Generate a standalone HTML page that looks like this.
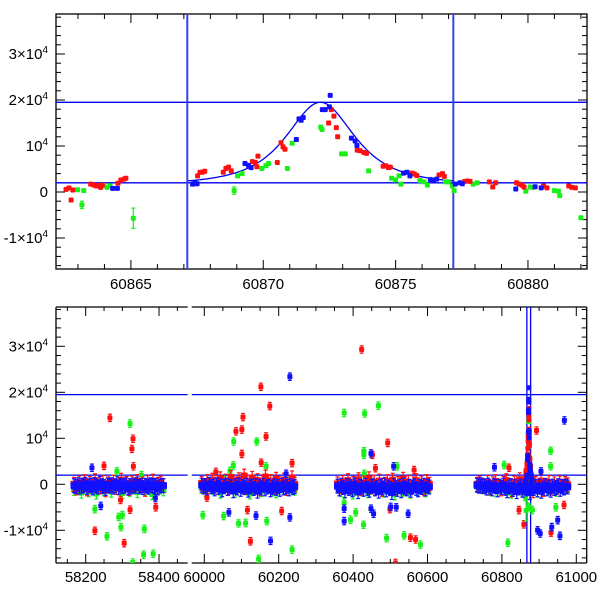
<!DOCTYPE html>
<html><head><meta charset="utf-8">
<style>
html,body{margin:0;padding:0;background:#fff;}
svg{display:block;font-family:"Liberation Sans",sans-serif;}
</style></head>
<body>
<svg id="chart" width="600" height="600" viewBox="0 0 600 600" xmlns="http://www.w3.org/2000/svg"></svg>
<script>
// ---------- DATA ----------
const topRedT=[60862.55,60862.66,60862.74,60862.81,60863.48,60863.6,60863.7,60863.78,60863.86,60863.92,60864.51,60864.62,60864.74,60864.81,60867.52,60867.61,60867.7,60867.79,60868.49,60868.59,60868.69,60868.79,60869.59,60869.7,60869.8,60869.76,60870.53,60870.67,60870.75,60870.82,60872.57,60872.67,60872.47,60872.76,60872.81,60873.55,60873.65,60873.8,60873.9,60874.53,60874.63,60874.73,60874.8,60875.62,60875.71,60875.8,60876.64,60876.77,60876.84,60877.61,60877.72,60877.81,60878.54,60878.67,60878.78,60879.57,60879.67,60879.78,60879.85,60880.59,60880.72,60881.54,60881.66,60881.79];
const topRedF=[580,860,-1740,430,1700,1500,1300,1400,1000,1500,1900,2600,2800,3000,3500,4300,4300,4500,4300,5100,5400,4600,6600,6400,7800,5500,6400,10700,9800,9300,17900,16500,15000,14000,12000,9100,9000,8600,8400,5600,5700,5300,5400,4100,3900,3600,3700,4000,3400,2300,2400,2300,2200,1100,2000,2000,1700,1500,1100,1300,900,1300,1000,900];
const topGreenT=[60862.99,60863.22,60863.15,60863.97,60864.1,60864.21,60865.09,60868.9,60869.03,60869.2,60869.95,60870.1,60870.2,60870.91,60871.09,60872.17,60872.22,60872.96,60873.1,60873.98,60874.85,60875.0,60875.13,60875.2,60875.92,60876.07,60876.2,60876.89,60876.99,60877.14,60877.21,60877.93,60878.08,60879.92,60880.08,60880.18,60881.0,60881.15,60881.2,60882.0];
const topGreenF=[500,300,-2800,1450,1000,1350,-5700,300,3500,4000,5100,5700,6200,5100,10600,14100,13600,8300,8300,4600,3000,2600,3500,1700,2500,2200,1500,2200,2200,1300,300,1700,2000,150,1100,1000,300,200,-800,-5600];
const topGreenE=[300,300,800,300,300,300,2200,800,300,300,300,300,300,300,300,300,300,300,300,300,300,300,300,300,300,300,300,300,300,300,300,300,300,300,300,300,300,300,300,300];
const topBlueT=[60864.31,60864.49,60867.33,60867.42,60867.5,60869.31,60869.44,60869.54,60871.25,60871.35,60871.43,60871.51,60872.23,60872.34,60872.5,60872.53,60873.33,60873.47,60873.54,60875.3,60875.43,60875.54,60876.31,60876.43,60876.55,60877.25,60877.43,60877.52,60879.54,60880.27,60880.5];
const topBlueF=[800,800,1700,2000,1800,6200,5800,5300,11400,15900,15600,16200,17900,17900,18500,21000,11700,11100,10100,4100,4300,3500,2700,2600,2800,1700,2000,1800,650,1150,900];
// Model curve parameters: baseline, amplitude, t0, width, power
const modelParams=[1500,18000,60872.16,2.0,1.5];
const modelRange=[60867.15,60877.2];
const hLines=[19500,2000];
const vLines=[60867.13,60877.18];

const bandSeasons=[[58168,58412],[59993,60243],[60358,60605],[60733,60977]];
const bandBlue=[
[-3,-5,-1,-6,-2,-4,0,-7,-3,-2,-8,-1,-4,-6,2,-3,-5,-9,-2,-4,-1,-6,-3,3,-7,-2,-5,-4,-1,-8,-3,-6,-2,-4,1,-5,-3,-7,-2,-4,-6,-1,-3,-5,-2,-8,-4,-2,-3],
[-2,-6,-3,-8,0,-5,-4,-10,-1,-7,-3,-12,-5,-2,-9,-4,-6,-14,-3,-8,-1,-11,-5,-7,-2,-13,-6,-4,-9,-3,-15,-5,-8,-2,-10,-6,-4,-12,-7,-3,-9,-5,-11,-2,-8,-6,-4,-10,-3,-7,-5],
[-4,-10,-2,-7,-14,-3,-9,-5,-12,-1,-8,-16,-4,-6,-11,-2,-9,-13,-5,-3,-10,-7,-15,-4,-8,-2,-12,-6,-9,-18,-3,-7,-11,-5,-14,-2,-8,-10,-4,-13,-6,-3,-9,-12,-5,-7,-2,-10,-4,-6],
[-2,-4,-1,-5,-3,-8,-2,-6,-10,-3,-5,-12,-4,-7,-2,-9,-14,-6,-3,-11,-5,-16,-8,-4,-13,-7,-10,-3,-18,-6,-9,-5,-12,-4,-15,-8,-3,-10,-6,-13,-4,-9,-7,-3,-11,-5,-8,-4,-6]];
const bandRed=[
[0,-8,3,-2,6,-10,2,-4,8,-1,-6,4,-12,1,-3,5,-7,0,9,-5,2,-9,3,-1,6,-4,1,-11,4,-2,7,-6,0,3,-3],
[2,-4,6,-1,9,-6,4,12,-3,7,-8,15,1,-5,10,-2,18,-7,5,13,-4,8,-10,3,16,-1,6,-6,11,2,-3,9,-9,4,14,0],
[1,-5,4,-2,8,-7,2,-3,10,-9,3,-1,12,-6,5,-4,7,-11,0,6,-3,9,-8,2,-2,11,-5,4,-7,1,8,-4,3,-10,6,0],
[0,3,-2,-5,4,-8,1,6,-4,-10,2,8,-6,-12,3,-3,10,-7,0,-9,5,-14,2,-5,7,-11,-2,4,-8,1,-6,3,-4,2,-1]];
const bandGreen=[
[-12,-6,-18,-4,-15,-9,-20,-2,-13,-7,-16,-5,-11,-19,-3,-14,-8,-17,-6,-12,-10,-21,-4,-9,-13],
[-8,-14,3,-10,-5,-18,6,-12,-3,-16,-7,4,-11,-20,-2,-9,-15,5,-6,-13,-17,-4,-10,2,-8,-12],
[-6,-15,-3,-10,-20,-8,-13,-4,-17,-9,-12,-2,-16,-7,-11,-22,-5,-14,-9,-18,-3,-12,-8,-15,-6],
[-5,-8,-3,-12,-6,-15,-2,-10,-7,-18,-4,-9,-13,-3,-11,-6,-16,-8,-5,-12,-7,-14,-4,-9,-6]];
const outRedT=[58266,58326,58329,58330,58250,58225,58305,58321,58391,58295,60152,60176,60166,60104,60101,60085,60101,60153,60031,60236,60116,60124,60208,60007,60423,60493,60452,60460,60499,60514,60554,60568,60564,60819,60859,60932,60967,60893,60846];
const outRedF=[14450,7700,9900,3900,4000,-10100,-12800,-5500,-5000,-3400,21200,17000,10400,14600,11900,11500,6600,4700,2700,4600,-5600,-12400,-5800,-2900,29300,9000,6400,3500,-5400,-17100,-11600,-12000,3100,3600,-8700,-10500,-4500,11700,-5600];
const outGreenT=[58321,58328,58296,58290,58300,58258,58225,58360,58358,58384,58285,58352,60079,60141,60146,59996,60092,60111,60052,60168,60236,60078,60166,60069,60376,60431,60468,60429,60429,60376,60393,60407,60428,60490,60537,60581,60430,60518,60816,60806,60931,60931,60945,60872,60881];
const outGreenF=[13200,-17000,-9300,-7100,-6700,-11300,-5400,-9700,-15300,-15100,2800,2000,9300,9300,-16200,-6700,-8500,-8400,-6900,-8000,-14200,4100,3900,2900,15500,15400,17100,6400,7200,-4000,-7700,-6100,-8800,-11700,-11100,-13100,2300,3900,-12700,4200,7300,3900,-5000,-4900,-5600];
const outBlueT=[58217,58241,58390,60230,60178,60066,60139,60230,60220,60448,60376,60376,60448,60455,60509,60548,60516,60501,60968,60905,60780,60903,60896,60934,60956,60950];
const outBlueF=[3600,-4700,-3000,23400,-12300,-6100,-6800,-7200,2300,6700,-8000,-5300,-5300,-6400,3900,-6400,-5000,-4900,13900,2800,3700,-10700,-10000,-9300,-11200,-7800];

// ---------- AXES ----------
const NS="http://www.w3.org/2000/svg";
const svg=document.getElementById('chart');
const TOP={x0:56,x1:587,y0:14,y1:269,t0:60862.17,tpx:26.47,yz:192};
const BOT={y0:307,y1:563,yz:484.3};
const FS=0.0046;
const BL={x0:56,x1:187.7,tref:58200,xref:85.7,tpx:0.3667};
const BR={x0:191.7,x1:586.7,tref:60000,xref:204.3,tpx:0.372};
function xTop(t){return TOP.x0+(t-TOP.t0)*TOP.tpx;}
function yTop(f){return TOP.yz-f*FS;}
function yBot(f){return BOT.yz-f*FS;}
function xSub(s,t){return s.xref+(t-s.tref)*s.tpx;}
function el(tag,attrs,parent){const e=document.createElementNS(NS,tag);for(const k in attrs)e.setAttribute(k,attrs[k]);(parent||svg).appendChild(e);return e;}

const defs=el('defs',{});
function clip(id,x,y,w,h){const c=el('clipPath',{id:id},defs);el('rect',{x:x,y:y,width:w,height:h},c);}
clip('cTop',TOP.x0,TOP.y0,TOP.x1-TOP.x0,TOP.y1-TOP.y0);
clip('cBL',BL.x0,BOT.y0,BL.x1-BL.x0,BOT.y1-BOT.y0);
clip('cBR',BR.x0,BOT.y0,BR.x1-BR.x0,BOT.y1-BOT.y0);

const COL={r:'#ff1010',g:'#18f018',b:'#1010ff'};
function point(g,x,y,err,col,sz){
  sz=sz||5;
  if(err*FS>2.5){
    el('line',{x1:x,x2:x,y1:y-err*FS,y2:y+err*FS,stroke:col,'stroke-width':1.2},g);
    el('line',{x1:x-2,x2:x+2,y1:y-err*FS,y2:y-err*FS,stroke:col,'stroke-width':1.2},g);
    el('line',{x1:x-2,x2:x+2,y1:y+err*FS,y2:y+err*FS,stroke:col,'stroke-width':1.2},g);
  }
  el('rect',{x:x-sz/2,y:y-sz/2,width:sz,height:sz,rx:1,fill:col},g);
}

function yTicks(x0,x1,yfun,ymin,ymax){
  const g=el('g',{});
  
  
  for(let f=-16000;f<=38000;f+=2000){
    const y=yfun(f); if(y<ymin||y>ymax)continue;
    const L=(f%10000===0)?9:5;
    el('line',{x1:x0,x2:x0+L,y1:y,y2:y,stroke:'#000','stroke-width':1},g);
    el('line',{x1:x1,x2:x1-L,y1:y,y2:y,stroke:'#000','stroke-width':1},g);
  }
}
const yLabelVals=[-10000,0,10000,20000,30000];
const yLabelText=[['-1×10','4'],['0',''],['10','4'],['2×10','4'],['3×10','4']];
function yLabels(yfun,name){
  yLabelVals.forEach((v,i)=>{
    const t=el('text',{x:48,y:yfun(v)+5,'text-anchor':'end','font-size':15,fill:'#000'});
    
    
    t.appendChild(document.createTextNode(yLabelText[i][0]));
    if(yLabelText[i][1]){const s=el('tspan',{'font-size':10,dy:-6},t);s.textContent=yLabelText[i][1];}
  });
}

// ---------- TOP PANEL ----------
const gTop=el('g',{});


el('rect',{x:TOP.x0,y:TOP.y0,width:TOP.x1-TOP.x0,height:TOP.y1-TOP.y0,fill:'none',stroke:'#000','stroke-width':1.3},gTop);
yTicks(TOP.x0,TOP.x1,yTop,TOP.y0,TOP.y1);
for(let t=60863;t<=60882;t++){
  const x=xTop(t),L=(t%5===0)?9:5;
  el('line',{x1:x,x2:x,y1:TOP.y1,y2:TOP.y1-L,stroke:'#000'},gTop);
  el('line',{x1:x,x2:x,y1:TOP.y0,y2:TOP.y0+L,stroke:'#000'},gTop);
  if(t%5===0){const tx=el('text',{x:x,y:289,'text-anchor':'middle','font-size':15},gTop);
    
    
    tx.textContent=t;}
}
yLabels(yTop,'top');
const gTopData=el('g',{'clip-path':'url(#cTop)'});


hLines.forEach(f=>el('line',{x1:TOP.x0,x2:TOP.x1,y1:yTop(f),y2:yTop(f),stroke:'#0000ee','stroke-width':1.3},gTopData));
vLines.forEach(t=>el('line',{x1:xTop(t),x2:xTop(t),y1:TOP.y0,y2:TOP.y1,stroke:'#3344ee','stroke-width':2},gTopData));
function model(t){const[b,a,t0,w,k]=modelParams;return b+a*Math.pow(1+((t-t0)/w)**2,-k);}
let d='';
for(let t=modelRange[0];t<=modelRange[1]+1e-9;t+=0.05){d+=(d?'L':'M')+xTop(t).toFixed(2)+','+yTop(model(t)).toFixed(2);}
const mp=el('path',{d:d,fill:'none',stroke:'#0000ee','stroke-width':1.3},gTopData);


topGreenT.forEach((t,i)=>point(gTopData,xTop(t),yTop(topGreenF[i]),topGreenE[i],COL.g));
topRedT.forEach((t,i)=>point(gTopData,xTop(t),yTop(topRedF[i]),300,COL.r));
topBlueT.forEach((t,i)=>point(gTopData,xTop(t),yTop(topBlueF[i]),300,COL.b));

// ---------- BOTTOM PANEL ----------
const gBot=el('g',{});


[BL,BR].forEach(s=>{
  el('line',{x1:s.x0,x2:s.x1,y1:BOT.y0,y2:BOT.y0,stroke:'#000','stroke-width':1.3},gBot);
  el('line',{x1:s.x0,x2:s.x1,y1:BOT.y1,y2:BOT.y1,stroke:'#000','stroke-width':1.3},gBot);
});
el('line',{x1:BL.x0,x2:BL.x0,y1:BOT.y0,y2:BOT.y1,stroke:'#000','stroke-width':1.3},gBot);
el('line',{x1:BR.x1,x2:BR.x1,y1:BOT.y0,y2:BOT.y1,stroke:'#000','stroke-width':1.3},gBot);
yTicks(BL.x0,BR.x1,yBot,BOT.y0,BOT.y1);
yLabels(yBot,'bottom');
[BL,BR].forEach(s=>{
  const tA=Math.ceil((s.tref+(s.x0-s.xref)/s.tpx)/50)*50;
  for(let t=tA;xSub(s,t)<=s.x1;t+=50){
    const x=xSub(s,t); if(x<s.x0+1||x>s.x1-1)continue;
    const L=(t%200===0)?9:4;
    el('line',{x1:x,x2:x,y1:BOT.y1,y2:BOT.y1-L,stroke:'#000'},gBot);
    el('line',{x1:x,x2:x,y1:BOT.y0,y2:BOT.y0+L,stroke:'#000'},gBot);
    if(t%200===0){const tx=el('text',{x:x,y:582,'text-anchor':'middle','font-size':15},gBot);
      
      
      tx.textContent=t;}
  }
});
function inSub(t){return t<59000?BL:BR;}
[['cBL',BL],['cBR',BR]].forEach(([cid,s])=>{
  const g=el('g',{'clip-path':'url(#'+cid+')'});
  
  
  hLines.forEach(f=>el('line',{x1:s.x0,x2:s.x1,y1:yBot(f),y2:yBot(f),stroke:'#0000ee','stroke-width':1.3},g));
  vLines.forEach(t=>el('line',{x1:xSub(s,t),x2:xSub(s,t),y1:BOT.y0,y2:BOT.y1,stroke:'#0000ee','stroke-width':1.3},g));
  function bands(arr,col,err,sz){
    bandSeasons.forEach((sea,i)=>{
      if(inSub(sea[0])!==s)return;
      const v=arr[i],step=(sea[1]-sea[0])/(v.length-1);
      v.forEach((f,j)=>point(g,xSub(s,sea[0]+j*step),yBot(f*100),err,col,sz));
    });
  }
  function outs(T,F,col){T.forEach((t,i)=>{if(inSub(t)===s)point(g,xSub(s,t),yBot(F[i]),800,col);});}
  bands(bandGreen,COL.g,1200,6);
  outs(outGreenT,outGreenF,COL.g);
  bands(bandRed,COL.r,1500,7);
  outs(outRedT,outRedF,COL.r);
  topGreenT.forEach((t,i)=>{if(inSub(t)===s)point(g,xSub(s,t),yBot(topGreenF[i]),topGreenE[i],COL.g);});
  topRedT.forEach((t,i)=>{if(inSub(t)===s)point(g,xSub(s,t),yBot(topRedF[i]),300,COL.r);});
  bands(bandBlue,COL.b,1500,7);
  outs(outBlueT,outBlueF,COL.b);
  topBlueT.forEach((t,i)=>{if(inSub(t)===s)point(g,xSub(s,t),yBot(topBlueF[i]),300,COL.b);});
});
</script>
</body></html>
